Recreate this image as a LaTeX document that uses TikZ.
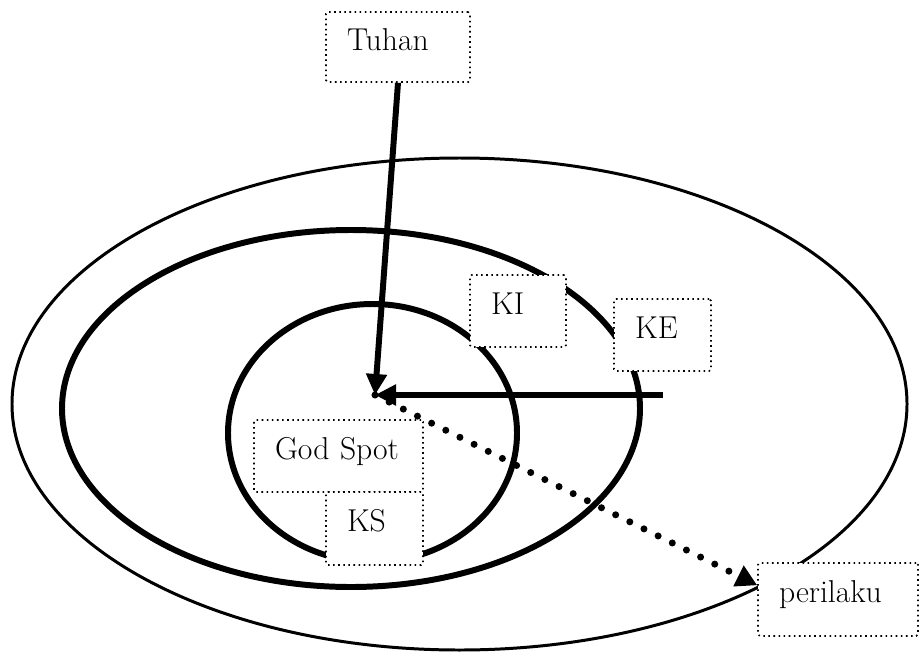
\documentclass[tikz,border=0pt]{standalone}
\usepackage{fontspec}
\usetikzlibrary{arrows.meta}
\tikzset{
  lbl/.style={draw, dotted, line width=0.9pt, fill=white, rounded corners=1pt, inner xsep=0.42cm, inner ysep=0pt, align=left, text height=12pt, text depth=8.5pt, font=\fontsize{18}{20}\selectfont},
  ring/.style={line width=3.4pt},
  thickarrow/.style={line width=3.4pt, -{Triangle[length=0.42cm,width=0.4cm]}},
  dotarrow/.style={line width=4pt, line cap=round, dash pattern=on 0pt off 9pt, -{Triangle[length=0.42cm,width=0.44cm]}},
}
\begin{document}
\begin{tikzpicture}[x=0.02cm, y=-0.02cm]
      \useasboundingbox (0,0) rectangle (919,659);

      \draw[line width=1.7pt] (459.5,404) ellipse [x radius=447.5, y radius=246];
      \draw[ring] (351,408.5) ellipse [x radius=289, y radius=178.5];
      \draw[ring] (372.5,433) ellipse [x radius=144.5, y radius=129];

      \node[lbl, text width=2.04cm, minimum height=1.4cm] (tuhan) at (398,47) {Tuhan};
      \node[lbl, text width=2.36cm, minimum height=1.46cm] (perilaku) at (838,599.5) {perilaku};

      \coordinate (pusat) at (375,395);
      \coordinate (ke) at (663,395);

      \draw[thickarrow] (tuhan.south) -- (pusat);
      \draw[thickarrow] (ke) -- (pusat);
      \draw[dotarrow] (pusat) -- (perilaku.170);

      \node[lbl, text width=1.08cm, minimum height=1.44cm] (ki) at (518,311) {KI};
      \node[lbl, text width=1.1cm, minimum height=1.44cm] (ke box) at (662.5,335) {KE};
      \node[lbl, text width=2.54cm, minimum height=1.44cm] (godspot) at (338.5,456) {God Spot};
      \node[lbl, text width=1.1cm, minimum height=1.46cm] (ks) at (374.5,528.5) {KS};
    \end{tikzpicture}
\end{document}
